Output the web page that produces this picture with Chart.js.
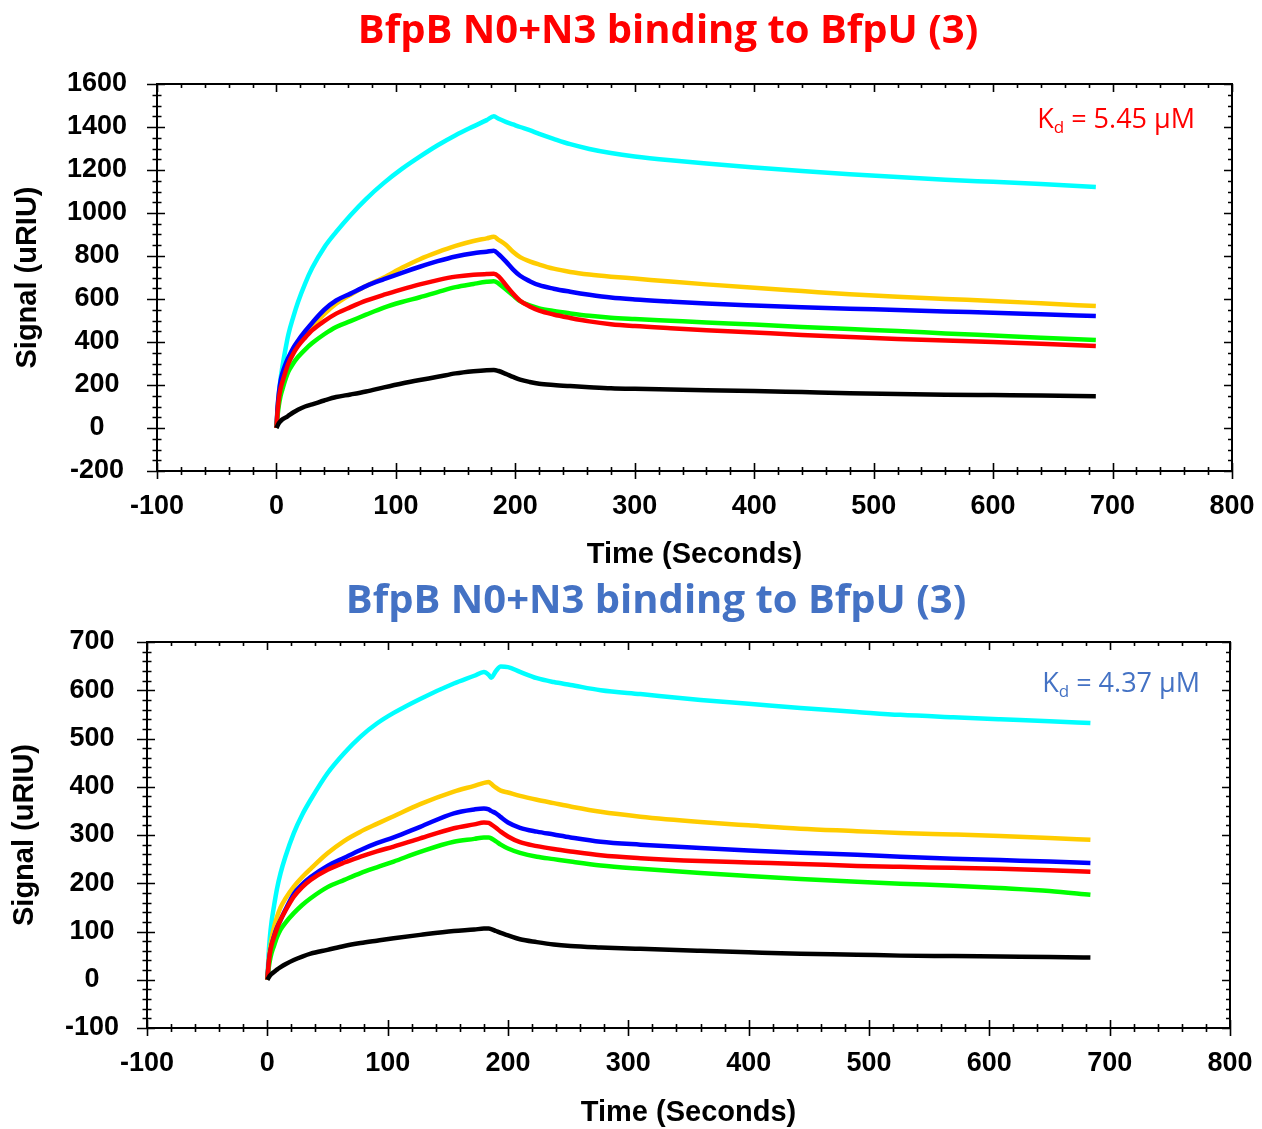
<!DOCTYPE html>
<html>
<head>
<meta charset="utf-8">
<script src="https://cdn.jsdelivr.net/npm/chart.js@4/dist/chart.umd.min.js"></script>
<style>
  html, body { margin: 0; padding: 0; background: #fff; }
  #wrap { position: relative; width: 1262px; height: 1129px; }
  canvas { position: absolute; left: 0; }
  #c1 { top: 0; }
  #c2 { top: 575px; }
</style>
</head>
<body>
<div id="wrap">
  <canvas id="c1" width="1262" height="575"></canvas>
  <canvas id="c2" width="1262" height="554"></canvas>
</div>
<script>
// ---- Panel 1: sensorgram, Kd = 5.45 µM ----
const topTitle = 'BfpB N0+N3 binding to BfpU (3)';
const topKd = '5.45';
const topTime   = [0, 1, 2, 3.5, 5, 7.5, 10, 14, 18, 24, 30, 40, 50, 62, 75, 90, 105, 120, 135, 150, 165, 176, 182, 186, 192, 198, 204, 212, 220, 232, 246, 262, 280, 300, 330, 360, 400, 440, 480, 520, 560, 600, 640, 686];
const topCyan   = [0, 90, 160, 230, 285, 365, 435, 515, 585, 672, 745, 840, 912, 990, 1065, 1140, 1205, 1262, 1315, 1362, 1403, 1432, 1450, 1438, 1424, 1412, 1400, 1385, 1368, 1345, 1320, 1298, 1279, 1263, 1245, 1230, 1212, 1195, 1180, 1167, 1155, 1145, 1135, 1121];
const topYellow = [0, 90, 150, 205, 245, 285, 315, 355, 388, 432, 472, 530, 578, 620, 660, 700, 745, 785, 818, 847, 870, 882, 889, 875, 852, 820, 795, 775, 760, 741, 726, 714, 704, 695, 681, 668, 652, 637, 622, 610, 600, 591, 580, 567];
const topBlue   = [0, 100, 160, 220, 255, 295, 328, 372, 406, 450, 490, 550, 593, 625, 660, 692, 722, 750, 776, 798, 813, 820, 825, 808, 775, 738, 708, 683, 664, 648, 634, 620, 607, 598, 588, 579, 570, 562, 555, 549, 542, 536, 529, 521];
const topRed    = [0, 80, 135, 185, 215, 260, 300, 345, 380, 420, 455, 497, 532, 562, 592, 620, 645, 668, 688, 704, 713, 716, 717, 705, 665, 625, 592, 565, 546, 528, 512, 496, 483, 474, 464, 455, 444, 433, 423, 414, 407, 400, 392, 381];
const topGreen  = [0, 60, 105, 150, 180, 225, 262, 300, 330, 365, 395, 436, 470, 497, 527, 560, 586, 608, 632, 655, 670, 680, 683, 672, 645, 617, 590, 570, 556, 544, 533, 522, 513, 507, 499, 491, 481, 470, 460, 451, 440, 430, 420, 409];
const topBlack  = [0, 12, 22, 32, 40, 48, 57, 72, 85, 100, 110, 128, 144, 156, 170, 189, 207, 223, 238, 254, 264, 269, 270, 265, 252, 238, 225, 214, 206, 200, 195, 190, 185, 182, 179, 176, 172, 167, 162, 158, 155, 153, 151, 148];
const topYTicks = [-200, 0, 200, 400, 600, 800, 1000, 1200, 1400, 1600];

// ---- Panel 2: sensorgram, Kd = 4.37 µM ----
const bottomTitle = 'BfpB N0+N3 binding to BfpU (3)';
const bottomKd = '4.37';
const bottomTime   = [0, 1, 2, 3.5, 5.5, 8, 11, 15, 22, 29, 36, 50, 64, 77.5, 91, 105, 127, 155, 172, 180, 184, 186, 190, 194, 200, 210, 224, 238, 252, 277, 310, 360, 400, 443, 490, 526, 570, 609, 650, 684];
const bottomCyan   = [0, 50, 85, 120, 152, 188, 221, 255, 304, 342, 373, 428, 470, 504, 531, 553, 582, 614, 630, 638, 632, 626, 640, 649, 648, 638, 625, 617, 611, 600, 592, 580, 572, 563, 555, 549, 544, 540, 536, 532];
const bottomYellow = [0, 35, 60, 85, 108, 130, 150, 168, 193, 213, 230, 262, 288, 307, 323, 339, 364, 390, 402, 408, 410, 406, 398, 392, 388, 381, 373, 366, 359, 348, 338, 327, 320, 313, 308, 304, 301, 298, 294, 290];
const bottomBlue   = [0, 30, 52, 72, 90, 108, 124, 145, 178, 198, 213, 236, 253, 269, 283, 295, 317, 345, 353, 355, 353, 350, 345, 337, 326, 315, 307, 301, 295, 286, 280, 273, 268, 263, 259, 255, 251, 248, 245, 242];
const bottomRed    = [0, 30, 52, 72, 88, 106, 124, 143, 172, 192, 207, 228, 243, 255, 266, 276, 293, 314, 322, 326, 325, 322, 315, 307, 297, 285, 277, 271, 266, 258, 252, 246, 243, 240, 236, 234, 232, 230, 227, 224];
const bottomGreen  = [0, 22, 38, 55, 70, 88, 104, 118, 138, 155, 169, 192, 207, 221, 233, 245, 265, 286, 292, 295, 295, 293, 287, 280, 272, 263, 255, 250, 245, 237, 230, 221, 215, 209, 203, 199, 195, 190, 184, 176];
const bottomBlack  = [0, 4, 8, 12, 16, 21, 26, 32, 41, 48, 54, 62, 70, 76, 81, 86, 93, 101, 104, 106, 106, 105, 101, 97, 92, 84, 78, 73, 70, 67, 64, 60, 57, 54, 52, 50, 49, 48, 47, 46];
const bottomYTicks = [-100, 0, 100, 200, 300, 400, 500, 600, 700];

// shared x axis
const xTicks = [-100, 0, 100, 200, 300, 400, 500, 600, 700, 800];

const COLORS = { black: '#000000', red: '#ff0000', green: '#00ff00', blue: '#0000ff', yellow: '#ffcc00', cyan: '#00ffff' };

const pts = (t, v) => t.map((x, i) => ({ x, y: v[i] }));

// Box frame with tick marks crossing the bottom/left axes and pointing inward on top/right.
const frameTicks = {
  id: 'frameTicks',
  afterDraw(chart, args, o) {
    const { ctx, chartArea: a, scales: { x, y } } = chart;
    ctx.save();
    ctx.strokeStyle = '#000';
    ctx.lineWidth = 2;
    ctx.strokeRect(a.left, a.top, a.right - a.left, a.bottom - a.top);
    ctx.lineWidth = 1.6;
    ctx.beginPath();
    const xs = (o.xTicks[1] - o.xTicks[0]) / o.xMinor;
    const xn = Math.round((o.xTicks[o.xTicks.length - 1] - o.xTicks[0]) / xs);
    for (let i = 0; i <= xn; i++) {
      const px = Math.round(x.getPixelForValue(o.xTicks[0] + i * xs)) + 0.5;
      const major = i % o.xMinor === 0;
      const d = major ? 8 : 4;
      ctx.moveTo(px, a.bottom - d); ctx.lineTo(px, a.bottom + d);
      ctx.moveTo(px, a.top); ctx.lineTo(px, a.top + (major ? 8 : 4));
    }
    const ys = (o.yTicks[1] - o.yTicks[0]) / o.yMinor;
    const yn = Math.round((o.yTicks[o.yTicks.length - 1] - o.yTicks[0]) / ys);
    for (let i = 0; i <= yn; i++) {
      const py = Math.round(y.getPixelForValue(o.yTicks[0] + i * ys)) + 0.5;
      const major = i % o.yMinor === 0;
      ctx.moveTo(a.left - (major ? 10 : 4.5), py); ctx.lineTo(a.left + (major ? 8 : 4.5), py);
      ctx.moveTo(a.right, py); ctx.lineTo(a.right - (major ? 8 : 4), py);
    }
    ctx.stroke();
    ctx.restore();
  }
};

// Panel heading and Kd annotation
const labels = {
  id: 'labels',
  afterDraw(chart, args, o) {
    const { ctx, chartArea: a } = chart;
    ctx.save();
    ctx.textBaseline = 'middle';
    ctx.fillStyle = o.color;
    ctx.font = 'bold 40px "Open Sans"';
    ctx.textAlign = 'center';
    ctx.fillText(o.title, o.titleX, o.titleY);

    // K with subscript d, then the value
    const big = '27px "Open Sans"', small = '17px "Open Sans"';
    ctx.font = big;
    const rest = ' = ' + o.kd + ' \u00b5M';
    const wRest = ctx.measureText(rest).width;
    const wK = ctx.measureText('K').width;
    ctx.font = small;
    const wd = ctx.measureText('d').width;
    const xr = a.right - o.kdRight;
    const yc = a.top + o.kdTop;
    const xl = xr - wRest - wd - wK;
    ctx.textAlign = 'left';
    ctx.font = big;
    ctx.fillText('K', xl, yc);
    ctx.font = small;
    ctx.fillText('d', xl + wK, yc + 8);
    ctx.font = big;
    ctx.fillText(rest, xl + wK + wd, yc);
    ctx.restore();
  }
};

function makeChart(id, cfg) {
  const ds = (label, t, v, color) => ({
    label, data: pts(t, v), borderColor: color, backgroundColor: color,
    borderWidth: 4.5, pointRadius: 0, cubicInterpolationMode: 'monotone', fill: false
  });
  const tickFont = { family: '"Liberation Sans", Arial', weight: 'bold', size: 27, lineHeight: 1.2 };
  const titleFont = { family: '"Liberation Sans", Arial', weight: 'bold', size: 29, lineHeight: 1.0 };
  return new Chart(document.getElementById(id), {
    type: 'line',
    data: {
      datasets: [
        ds('black', cfg.t, cfg.black, COLORS.black),
        ds('red', cfg.t, cfg.red, COLORS.red),
        ds('green', cfg.t, cfg.green, COLORS.green),
        ds('blue', cfg.t, cfg.blue, COLORS.blue),
        ds('yellow', cfg.t, cfg.yellow, COLORS.yellow),
        ds('cyan', cfg.t, cfg.cyan, COLORS.cyan)
      ]
    },
    options: {
      responsive: false,
      animation: false,
      devicePixelRatio: 1,
      layout: { padding: { top: cfg.plot.top, right: cfg.W - cfg.plot.right, left: 0, bottom: 0 } },
      plugins: {
        legend: { display: false },
        tooltip: { enabled: false },
        frameTicks: { xTicks: xTicks, xMinor: 5, yTicks: cfg.yTicks, yMinor: cfg.yMinor },
        labels: cfg.labels
      },
      scales: {
        x: {
          type: 'linear', min: xTicks[0], max: xTicks[xTicks.length - 1],
          grid: { display: false, drawTicks: false },
          border: { display: false },
          afterBuildTicks: s => { s.ticks = xTicks.map(v => ({ value: v })); },
          afterFit: s => { s.height = cfg.H - cfg.plot.bottom; s.paddingLeft = 0; s.paddingRight = 0; },
          ticks: { color: '#000', font: tickFont, padding: 19, maxRotation: 0, autoSkip: false, callback: v => String(v) },
          title: { display: true, text: 'Time (Seconds)', color: '#000', font: titleFont, padding: { top: 0, bottom: cfg.xTitlePad } }
        },
        y: {
          type: 'linear', min: cfg.yTicks[0], max: cfg.yTicks[cfg.yTicks.length - 1],
          grid: { display: false, drawTicks: false },
          border: { display: false },
          afterBuildTicks: s => { s.ticks = cfg.yTicks.map(v => ({ value: v })); },
          afterFit: s => { s.width = cfg.plot.left; s.paddingTop = 0; s.paddingBottom = 0; },
          ticks: { color: '#000', font: tickFont, padding: cfg.yTickPad, crossAlign: 'center', autoSkip: false, callback: v => String(v) },
          title: { display: true, text: 'Signal (uRIU)', color: '#000', font: titleFont, padding: { top: cfg.yTitlePad, bottom: 0 } }
        }
      }
    },
    plugins: [frameTicks, labels]
  });
}

makeChart('c1', {
  W: 1262, H: 575,
  plot: { left: 157, right: 1232, top: 84, bottom: 471 },
  t: topTime, cyan: topCyan, yellow: topYellow, blue: topBlue, red: topRed, green: topGreen, black: topBlack,
  yTicks: topYTicks, yMinor: 4, yTickPad: 30, yTitlePad: 13, xTitlePad: 6,
  labels: { title: topTitle, color: '#ff0000', titleX: 668, titleY: 32, kd: topKd, kdRight: 37, kdTop: 36 }
});

makeChart('c2', {
  W: 1262, H: 554,
  plot: { left: 147, right: 1230, top: 67, bottom: 453 },
  t: bottomTime, cyan: bottomCyan, yellow: bottomYellow, blue: bottomBlue, red: bottomRed, green: bottomGreen, black: bottomBlack,
  yTicks: bottomYTicks, yMinor: 5, yTickPad: 28, yTitlePad: 10, xTitlePad: 2,
  labels: { title: bottomTitle, color: '#4472c4', titleX: 656, titleY: 27, kd: bottomKd, kdRight: 30, kdTop: 42 }
});
</script>
</body>
</html>
